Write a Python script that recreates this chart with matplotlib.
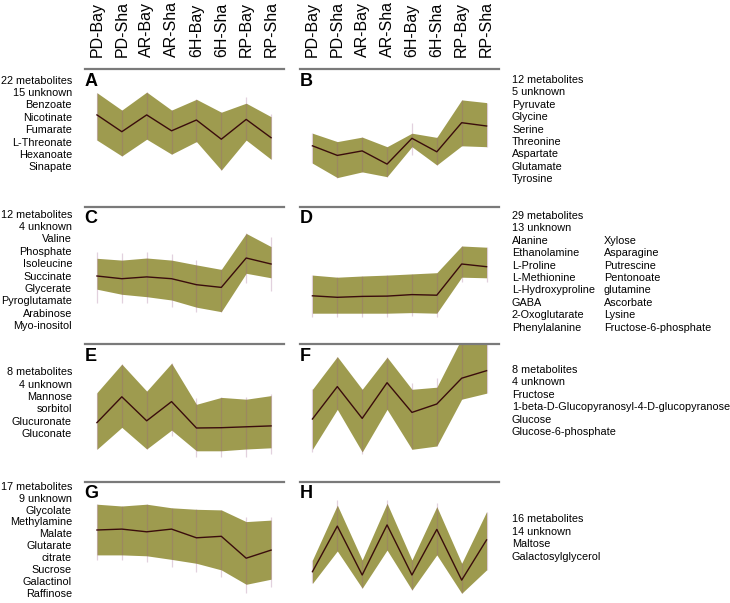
import matplotlib
matplotlib.use("Agg")
import matplotlib.pyplot as plt

plt.rcParams["font.family"] = ["Liberation Sans", "DejaVu Sans"]

# --- data ---------------------------------------------------------------
CONDITIONS = ["PD-Bay", "PD-Sha", "AR-Bay", "AR-Sha",
              "6H-Bay", "6H-Sha", "RP-Bay", "RP-Sha"]

PANELS = ["A", "B", "C", "D", "E", "F", "G", "H"]

# cluster mean profile (scaled abundance)
MEAN = {
    "A": [0.47, -0.09, 0.47, -0.06, 0.30, -0.34, 0.32, -0.29],
    "B": [-0.56, -0.88, -0.73, -1.17, -0.31, -0.76, 0.21, 0.10],
    "C": [-0.31, -0.40, -0.34, -0.40, -0.60, -0.69, 0.29, 0.09],
    "D": [-0.97, -1.02, -0.99, -0.98, -0.93, -0.95, 0.09, 0.00],
    "E": [-0.61, 0.25, -0.55, 0.09, -0.79, -0.78, -0.75, -0.72],
    "F": [-0.49, 0.59, -0.47, 0.72, -0.27, 0.01, 0.87, 1.12],
    "G": [0.39, 0.42, 0.33, 0.42, 0.13, 0.18, -0.55, -0.28],
    "H": [-1.00, 0.52, -1.11, 0.56, -1.11, 0.41, -1.28, 0.06],
}
# shaded band
BAND_LO = {
    "A": [-0.37, -0.90, -0.34, -0.84, -0.42, -1.37, -0.37, -1.01],
    "B": [-1.14, -1.62, -1.43, -1.59, -0.59, -1.20, -0.56, -0.59],
    "C": [-0.75, -0.92, -1.00, -1.11, -1.35, -1.50, -0.22, -0.37],
    "D": [-1.55, -1.55, -1.55, -1.55, -1.53, -1.55, -0.35, -0.37],
    "E": [-1.50, -0.77, -1.49, -0.86, -1.55, -1.55, -1.49, -1.45],
    "F": [-1.50, -0.17, -1.59, -0.17, -1.50, -1.39, 0.17, 0.37],
    "G": [-0.44, -0.44, -0.47, -0.59, -0.72, -0.94, -1.42, -1.25],
    "H": [-1.39, -0.31, -1.55, -0.28, -1.61, -0.44, -1.72, -0.94],
}
BAND_HI = {
    "A": [1.21, 0.63, 1.23, 0.63, 0.99, 0.56, 0.86, 0.41],
    "B": [-0.14, -0.42, -0.27, -0.59, -0.14, -0.28, 0.97, 0.88],
    "C": [0.28, 0.22, 0.29, 0.22, 0.06, -0.09, 1.11, 0.67],
    "D": [-0.28, -0.35, -0.31, -0.28, -0.24, -0.20, 0.69, 0.65],
    "E": [0.39, 1.34, 0.44, 1.37, 0.00, 0.23, 0.17, 0.29],
    "F": [0.50, 1.59, 0.50, 1.57, 0.50, 0.57, 2.20, 2.30],
    "G": [1.25, 1.19, 1.25, 1.13, 1.08, 1.06, 0.67, 0.72],
    "H": [-0.61, 1.22, -0.61, 1.28, -0.61, 1.17, -0.72, 1.00],
}
# per-condition error bars
BAR_LO = {
    "A": [-0.37, -0.90, -0.34, -0.84, -0.42, -1.37, -0.37, -1.01],
    "B": [-1.14, -1.62, -1.43, -1.59, -0.87, -1.20, -0.56, -0.59],
    "C": [-1.22, -1.22, -1.22, -1.33, -1.50, -1.50, -0.53, -0.80],
    "D": [-1.67, -1.66, -1.66, -1.66, -1.64, -1.66, -0.50, -0.50],
    "E": [-1.50, -0.77, -1.49, -1.06, -1.77, -1.77, -1.77, -1.66],
    "F": [-1.60, -0.17, -1.65, -0.17, -1.50, -1.39, 0.17, 0.37],
    "G": [-0.61, -0.61, -0.69, -0.83, -1.02, -1.17, -1.72, -1.50],
    "H": [-1.39, -0.31, -1.55, -0.28, -1.61, -0.44, -1.72, -0.94],
}
BAR_HI = {
    "A": [1.21, 0.63, 1.23, 0.63, 0.99, 0.56, 1.06, 0.50],
    "B": [-0.14, -0.42, -0.27, -0.59, 0.21, -0.28, 0.97, 0.88],
    "C": [0.50, 0.45, 0.48, 0.42, 0.22, -0.09, 1.11, 0.98],
    "D": [-0.28, -0.35, -0.31, -0.28, -0.24, -0.20, 0.69, 0.65],
    "E": [0.39, 1.34, 0.44, 1.37, 0.20, 0.23, 0.23, 0.33],
    "F": [0.50, 1.59, 0.50, 1.57, 0.70, 0.89, 2.20, 2.30],
    "G": [1.25, 1.19, 1.25, 1.13, 1.08, 1.06, 0.83, 0.83],
    "H": [-0.61, 1.39, -0.61, 1.39, -0.61, 1.30, -0.72, 1.00],
}

TEXT_A = ["22 metabolites", "15 unknown", "Benzoate", "Nicotinate",
          "Fumarate", "L-Threonate", "Hexanoate", "Sinapate"]
TEXT_B = ["12 metabolites", "5 unknown", "Pyruvate", "Glycine", "Serine",
          "Threonine", "Aspartate", "Glutamate", "Tyrosine"]
TEXT_C = ["12 metabolites", "4 unknown", "Valine", "Phosphate", "Isoleucine",
          "Succinate", "Glycerate", "Pyroglutamate", "Arabinose", "Myo-inositol"]
TEXT_D = ["29 metabolites", "13 unknown", "Alanine", "Ethanolamine",
          "L-Proline", "L-Methionine", "L-Hydroxyproline", "GABA",
          "2-Oxoglutarate", "Phenylalanine"]
TEXT_D2 = ["Xylose", "Asparagine", "Putrescine", "Pentonoate", "glutamine",
           "Ascorbate", "Lysine", "Fructose-6-phosphate"]
TEXT_E = ["8 metabolites", "4 unknown", "Mannose", "sorbitol",
          "Glucuronate", "Gluconate"]
TEXT_F = ["8 metabolites", "4 unknown", "Fructose",
          "1-beta-D-Glucopyranosyl-4-D-glucopyranose", "Glucose",
          "Glucose-6-phosphate"]
TEXT_G = ["17 metabolites", "9 unknown", "Glycolate", "Methylamine", "Malate",
          "Glutarate", "citrate", "Sucrose", "Galactinol", "Raffinose"]
TEXT_H = ["16 metabolites", "14 unknown", "Maltose", "Galactosylglycerol"]

# --- layout (pixels) ----------------------------------------------------
W, H = 730, 603
COL_LEFT = [84.5, 300.0]
ROW_TOP = [69.0, 206.7, 344.3, 481.7]
AX_W, AX_H = 199.0, 120.0

COL_BAND = "#9e9b4f"
COL_MEAN = "#3a0c0c"
COL_BAR = "#9a5a8a"
COL_SEP = "#7a7a7a"

fig = plt.figure(figsize=(W / 100, H / 100), dpi=100)


def fx(px):
    return px / W


def fy(py):
    return 1 - py / H


x = list(range(len(CONDITIONS)))
for k, p in enumerate(PANELS):
    row, col = divmod(k, 2)
    left, top = COL_LEFT[col], ROW_TOP[row]
    ax = fig.add_axes([fx(left), fy(top + AX_H), AX_W / W, AX_H / H])
    ax.fill_between(x, BAND_LO[p], BAND_HI[p], color=COL_BAND, lw=0)
    ax.vlines(x, BAR_LO[p], BAR_HI[p], color=COL_BAR, alpha=0.28, lw=0.9)
    ax.plot(x, MEAN[p], color=COL_MEAN, lw=1.0)
    ax.set_xlim(-0.5, 7.5)
    ax.set_ylim(-2, 2)
    ax.set_xticks([])
    ax.set_yticks([])
    for s in ("left", "right", "bottom"):
        ax.spines[s].set_visible(False)
    ax.spines["top"].set_color(COL_SEP)
    ax.spines["top"].set_linewidth(1.6)
    ax.patch.set_alpha(0)
    fig.text(fx(left), fy(top + 3.5), p, ha="left", va="top",
             fontsize=13, fontweight="bold")

# condition headers
for col in range(2):
    for i, name in enumerate(CONDITIONS):
        xp = COL_LEFT[col] + (i + 0.5) * AX_W / 8
        fig.text(fx(xp), fy(57), name, rotation=90, ha="center",
                 va="bottom", fontsize=11.5)


def block(lines, xp, y0, ha, step=12.4):
    for i, t in enumerate(lines):
        fig.text(fx(xp), fy(y0 + i * step), t, ha=ha, va="center",
                 fontsize=7.8)


block(TEXT_A, 72, 80.7, "right")
block(TEXT_B, 512, 80.0, "left")
block(TEXT_C, 72, 214.5, "right")
block(TEXT_D, 512, 216.0, "left")
block(TEXT_D2, 604, 216.0 + 2 * 12.4, "left")
block(TEXT_E, 72, 372.3, "right")
block(TEXT_F, 512, 370.0, "left")
block(TEXT_G, 72, 486.7, "right", step=11.9)
block(TEXT_H, 512, 519.3, "left")

fig.savefig("out.png", dpi=100)
